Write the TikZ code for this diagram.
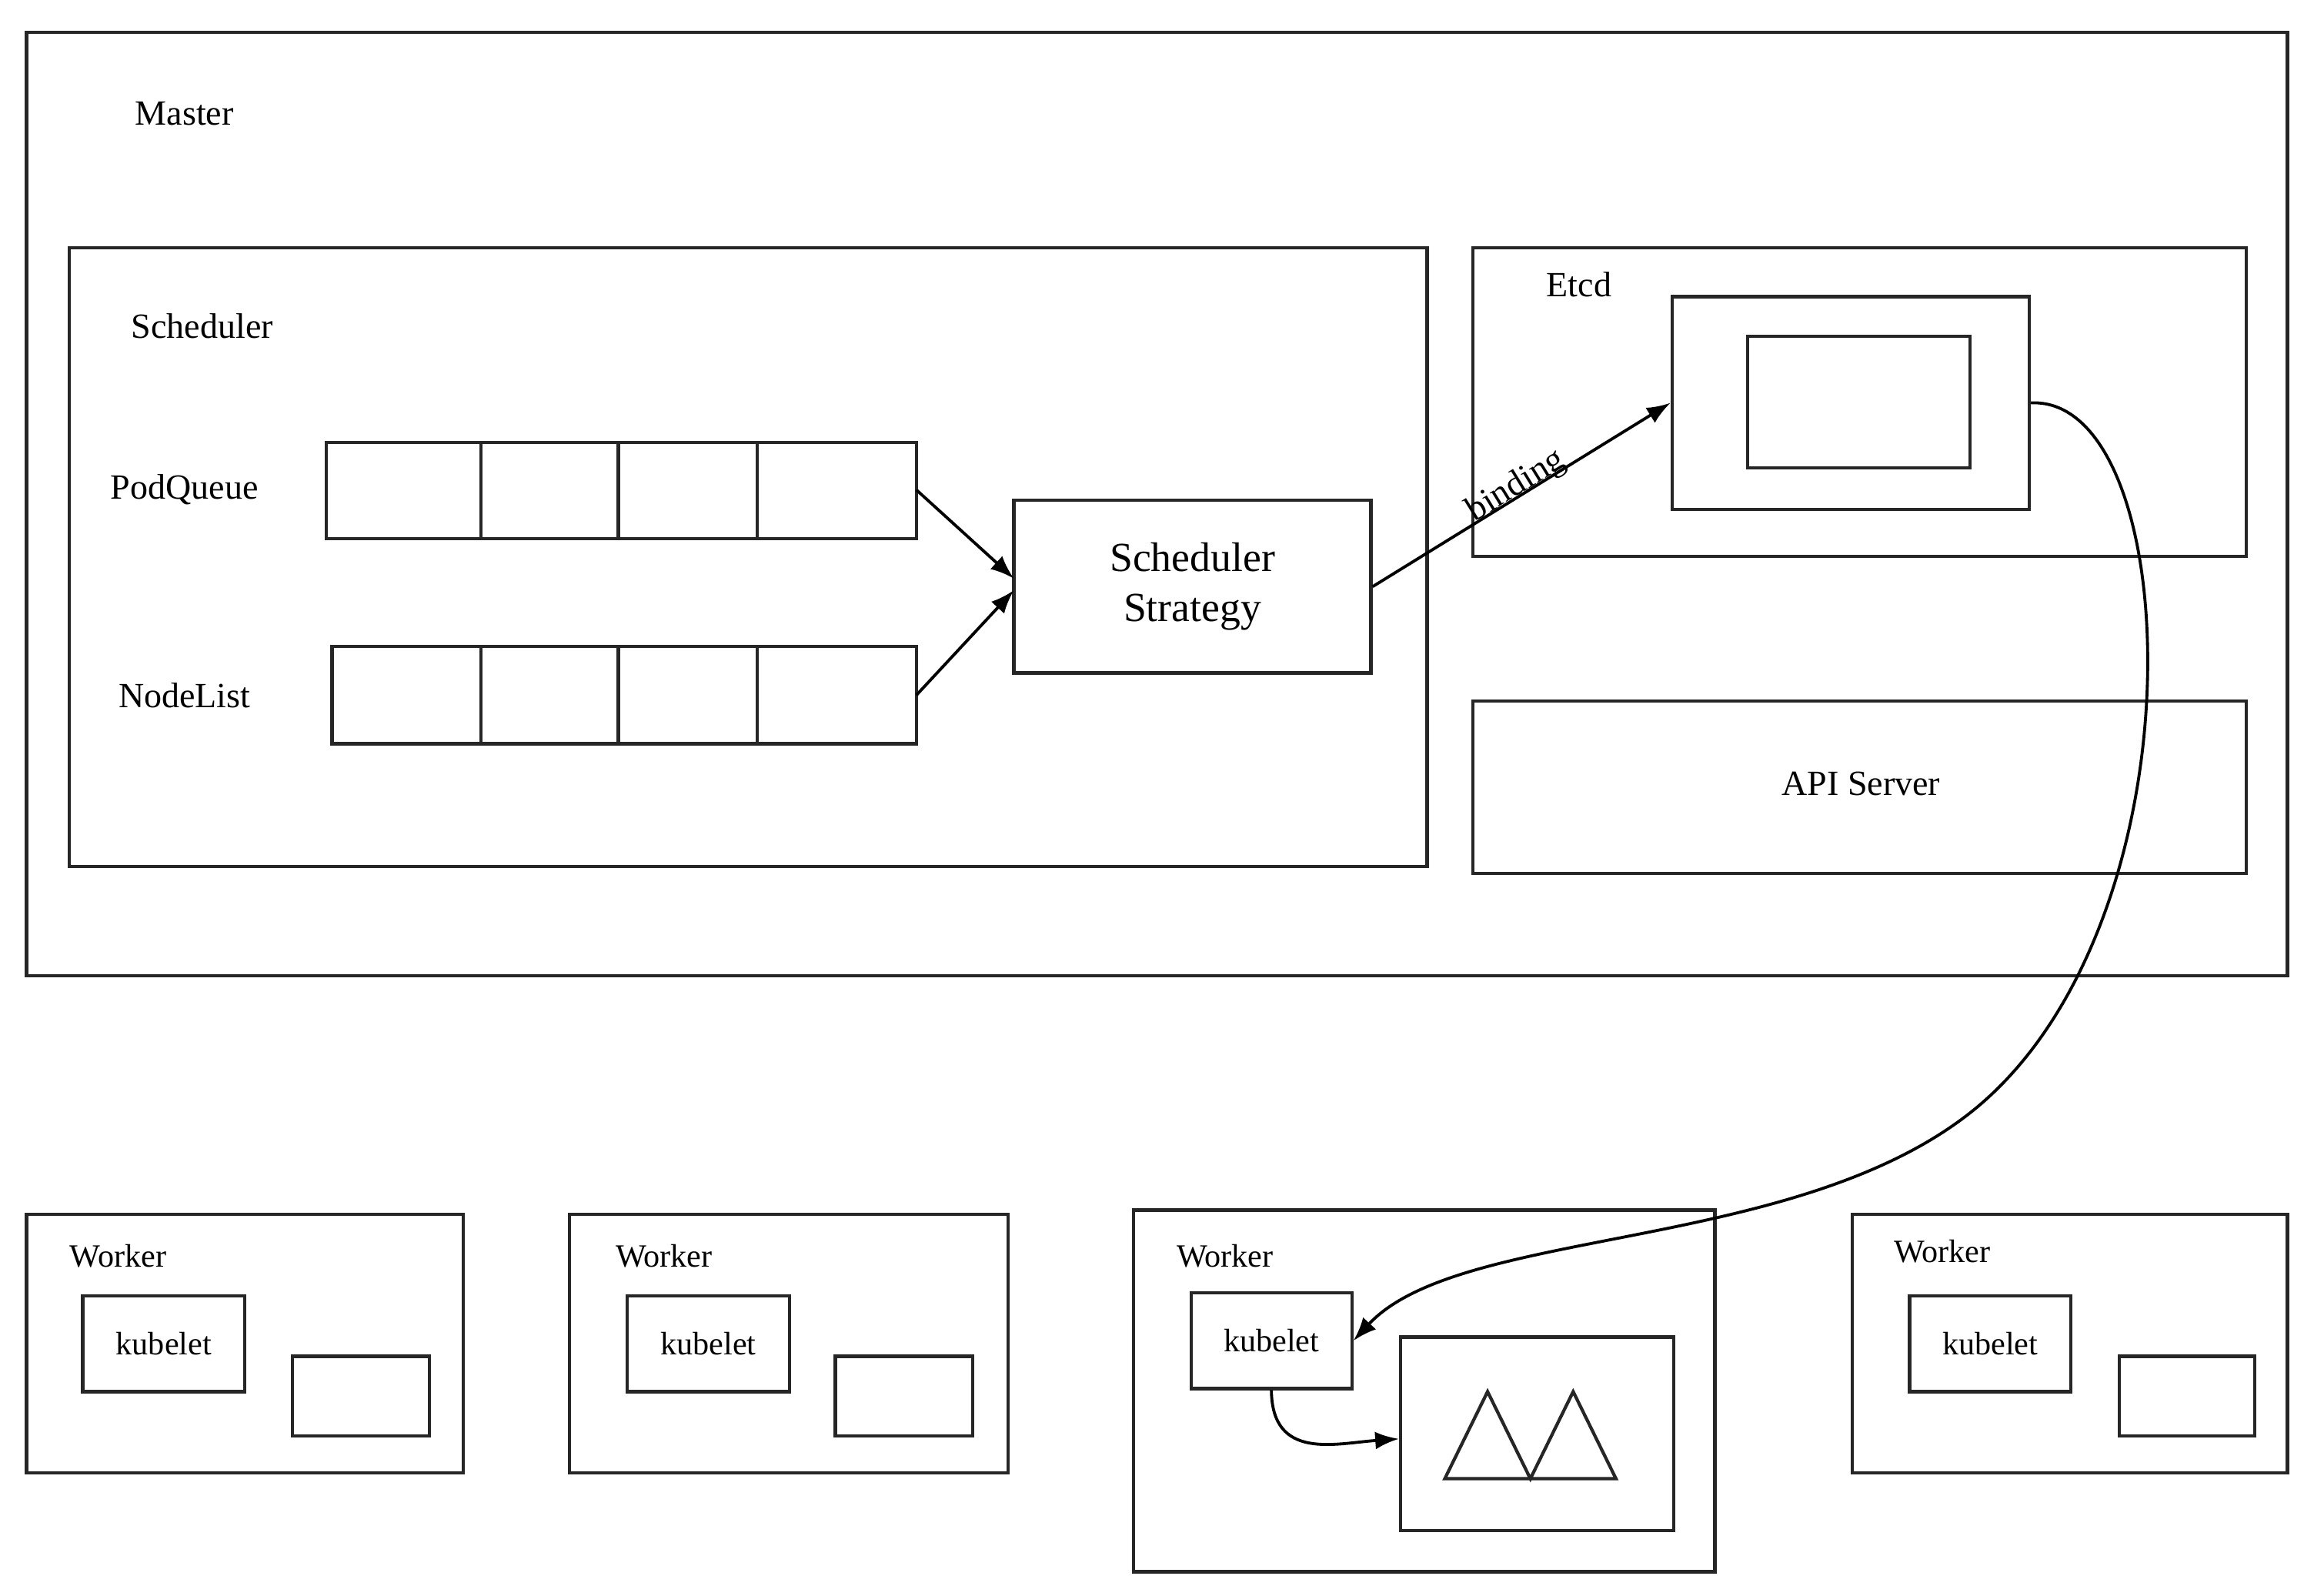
\documentclass[tikz,border=0pt]{standalone}
\usepackage{fontspec}
\setmainfont{Liberation Serif}
\usetikzlibrary{arrows.meta}
\begin{document}
\begin{tikzpicture}[x=0.5pt,y=-0.5pt,
  bx/.style={draw=black!85,line width=1.1pt},
  lb/.style={font=\fontsize{12}{14}\selectfont},
  wl/.style={font=\fontsize{11}{13}\selectfont},
  ar/.style={draw=black,line width=1pt,-{Latex[length=8pt,width=6pt]}}]
\useasboundingbox (0,0) rectangle (1568,1081);
\fill[white] (0,0) rectangle (1568,1081);
% Master
\draw[bx] (18,22) rectangle (1550,661);
\node[lb] (master) at (125,77) {Master};
\draw[bx] (47,168) rectangle (967,587);
\node[lb] (sched) at (137,221) {Scheduler};
\node[lb] (pq) at (125,332) {PodQueue};
\node[lb] (nl) at (125,471) {NodeList};
\foreach \a/\b in {221/326,326/419,419/513,513/621} \draw[bx] (\a,300) rectangle (\b,365);
\foreach \a/\b in {225/326,326/419,419/513,513/621} \draw[bx] (\a,438) rectangle (\b,504);
\coordinate (pqe) at (621,332);
\coordinate (nle) at (621,471);
\node[bx,minimum width=121pt,minimum height=58.5pt,align=center,font=\fontsize{14}{19}\selectfont] (ss) at (808,397.5) {\raisebox{-4pt}{Scheduler}\\[-2pt]\raisebox{-4pt}{Strategy}};
\draw[ar] (pqe) -- (687,392);
\draw[ar] (nle) -- (687,400);
% Etcd
\draw[bx] (998,168) rectangle (1522,377);
\node[lb] (etcd) at (1070,193) {Etcd};
\node[bx,minimum width=121pt,minimum height=72pt] (store) at (1254,273) {};
\draw[bx] (1184,228) rectangle (1335,317);
\draw[ar] (ss.east) -- node[lb,sloped,above=-6pt,pos=0.5] {binding} (store.west);
% API server
\draw[bx] (998,475) rectangle (1522,592);
\node[lb] (api) at (1261,531) {API Server};
% Workers
\draw[bx] (18,823) rectangle (314,998);
\node[wl] at (80,851) {Worker};
\node[bx,minimum width=55pt,minimum height=32.5pt,wl] (k1) at (111,910.5) {kubelet};
\draw[bx] (198,919) rectangle (291,973);
\draw[bx] (386,823) rectangle (683,998);
\node[wl] at (450,851) {Worker};
\node[bx,minimum width=55pt,minimum height=32.5pt,wl] (k2) at (480,910.5) {kubelet};
\draw[bx] (566,919) rectangle (659,973);
\draw[bx] (768,820) rectangle (1162,1065);
\node[wl] at (830,851) {Worker};
\node[bx,minimum width=54.5pt,minimum height=32.5pt,wl] (k3) at (861.5,908.5) {kubelet};
\node[bx,minimum width=92.5pt,minimum height=65.5pt] (pod) at (1041.5,971.5) {};
\draw[bx] (979,1002) -- (1008,943) -- (1037,1002) -- (1066,943) -- (1095,1002) -- cycle;
\draw[bx] (1255,823) rectangle (1550,998);
\node[wl] at (1316,848) {Worker};
\node[bx,minimum width=54.5pt,minimum height=32.5pt,wl] (k4) at (1348.5,910.5) {kubelet};
\draw[bx] (1436,919) rectangle (1528,973);
% curves
\draw[ar] (store.east) .. controls (1480,268) and (1495,620) .. (1340,750) .. controls (1220,850) and (990,830) .. (k3.east);
\draw[ar] (k3.south) .. controls (862,990) and (905,978) .. (pod.west |- 0,975);
\end{tikzpicture}
\end{document}
